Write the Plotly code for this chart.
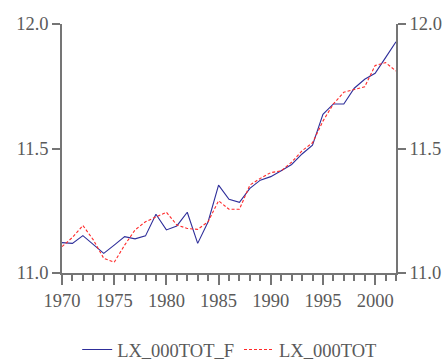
import plotly.graph_objects as go

years = list(range(1970, 2003))
lx_f = [11.122, 11.119, 11.150, 11.115, 11.079, 11.112, 11.146, 11.137, 11.149, 11.236,
        11.173, 11.189, 11.244, 11.119, 11.206, 11.353, 11.296, 11.284, 11.340, 11.373,
        11.387, 11.411, 11.436, 11.478, 11.513, 11.637, 11.679, 11.679, 11.742, 11.778,
        11.802, 11.865, 11.929]
lx = [11.106, 11.143, 11.191, 11.133, 11.059, 11.043, 11.112, 11.173, 11.206, 11.226,
      11.244, 11.193, 11.179, 11.175, 11.206, 11.290, 11.256, 11.256, 11.353, 11.380,
      11.403, 11.410, 11.445, 11.491, 11.523, 11.610, 11.679, 11.726, 11.738, 11.748,
      11.833, 11.845, 11.811]
y_ticks = [11.0, 11.5, 12.0]
x_ticks = [1970, 1975, 1980, 1985, 1990, 1995, 2000]

FONT = "Liberation Serif"
FS = 18.5
TXT = "#5a5a5a"
AX = "#757575"

fig = go.Figure()
fig.add_trace(go.Scatter(x=years, y=lx_f, mode="lines", name="LX_000TOT_F",
                         line=dict(color="#2e2e9a", width=1.1)))
fig.add_trace(go.Scatter(x=years, y=lx, mode="lines", name="LX_000TOT",
                         line=dict(color="#ff2a2a", width=1.1, dash="3px,2px")))
fig.add_trace(go.Scatter(x=years, y=lx, mode="lines", yaxis="y2", showlegend=False,
                         hoverinfo="skip", line=dict(width=0), opacity=0))

fig.update_layout(
    width=446, height=363,
    margin=dict(l=62, r=50, t=24, b=90, autoexpand=False),
    paper_bgcolor="white", plot_bgcolor="white",
    font=dict(family=FONT, size=FS, color=TXT),
    showlegend=True,
    legend=dict(orientation="h", xref="container", yref="container",
                x=0.515, xanchor="center", y=0.036, yanchor="middle",
                font=dict(family=FONT, size=FS, color=TXT),
                tracegroupgap=0),
    xaxis=dict(range=[1970, 2002], tickmode="array", tickvals=x_ticks, automargin=False,
               ticks="outside", ticklen=10, tickwidth=1.5, tickcolor=AX,
               showline=True, linecolor=AX, linewidth=1.6, showgrid=False, zeroline=False,
               minor=dict(dtick=1, tick0=1970, ticks="outside", ticklen=6, tickwidth=1.5,
                          tickcolor=AX, showgrid=False),
               tickfont=dict(family=FONT, size=FS, color=TXT)),
    yaxis=dict(range=[11.0, 12.0], tickmode="array", tickvals=y_ticks, automargin=False,
               ticktext=["11.0", "11.5", "12.0"],
               ticks="outside", ticklen=8, tickwidth=1.5, tickcolor=AX,
               showline=True, linecolor=AX, linewidth=1.6, showgrid=False, zeroline=False,
               tickfont=dict(family=FONT, size=FS, color=TXT)),
    yaxis2=dict(range=[11.0, 12.0], tickmode="array", tickvals=y_ticks, automargin=False,
                ticktext=["11.0", "11.5", "12.0"], overlaying="y", side="right",
                ticks="outside", ticklen=8, tickwidth=1.5, tickcolor=AX,
                showline=True, linecolor=AX, linewidth=1.6, showgrid=False, zeroline=False,
                tickfont=dict(family=FONT, size=FS, color=TXT)),
)

fig.write_html("out.html")
